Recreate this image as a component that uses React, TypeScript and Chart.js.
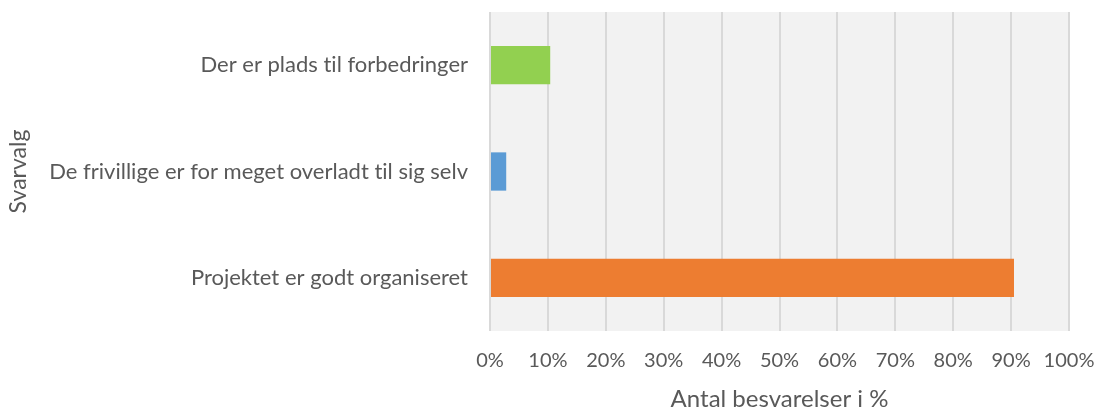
import React, { useEffect, useRef } from "react";
import { Chart, registerables } from "chart.js";

Chart.register(...registerables);

const categories = [
  "Der er plads til forbedringer",
  "De frivillige er for meget overladt til sig selv",
  "Projektet er godt organiseret",
];
const values = [10.4, 2.8, 90.5];
const barColors = ["#92d050", "#5b9bd5", "#ed7d31"];
const xTicks = [0, 10, 20, 30, 40, 50, 60, 70, 80, 90, 100];
const xTitle = "Antal besvarelser i %";
const yTitle = "Svarvalg";

const FONT = "Lato, 'Open Sans', sans-serif";

const plotBg = {
  id: "plotBg",
  beforeDraw(chart: any) {
    const { ctx, chartArea } = chart;
    try {
      (ctx as any).textRendering = "optimizeSpeed";
    } catch (e) {}
    ctx.save();
    ctx.fillStyle = "#f2f2f2";
    ctx.fillRect(chartArea.left, chartArea.top, chartArea.right - chartArea.left, chartArea.bottom - chartArea.top);
    ctx.restore();
  },
};

export default function App() {
  const ref = useRef<HTMLCanvasElement>(null);
  useEffect(() => {
    document.body.style.margin = "0";
    const chart = new Chart(ref.current!, {
      type: "bar",
      data: {
        labels: categories,
        datasets: [
          {
            data: values,
            backgroundColor: barColors,
            barPercentage: 0.36,
            categoryPercentage: 1,
          },
        ],
      },
      plugins: [plotBg],
      options: {
        indexAxis: "y",
        animation: false,
        responsive: false,
        maintainAspectRatio: false,
        layout: { padding: { top: 12, right: 29, left: 0, bottom: 0 } },
        plugins: { legend: { display: false }, tooltip: { enabled: false } },
        scales: {
          x: {
            min: 0,
            max: 100,
            afterBuildTicks: (scale: any) => {
              scale.ticks = xTicks.map((v) => ({ value: v }));
            },
            afterFit: (scale: any) => {
              scale.height = 79;
              scale.paddingLeft = 0;
              scale.paddingRight = 0;
            },
            ticks: {
              callback: (v: any) => v + "%",
              color: "#595959",
              font: { family: FONT, size: 20 },
              padding: 18,
              maxRotation: 0,
            },
            grid: { color: "#d9d9d9", lineWidth: 2, drawTicks: false },
            border: { display: false },
            title: {
              display: true,
              text: xTitle,
              color: "#595959",
              font: { family: FONT, size: 24 },
              padding: { top: 4, bottom: -4 },
            },
          },
          y: {
            afterFit: (scale: any) => {
              scale.width = 490;
              scale.paddingTop = 0;
              scale.paddingBottom = 0;
            },
            ticks: {
              color: "#595959",
              font: { family: FONT, size: 22 },
              padding: 22,
            },
            grid: { display: false, drawTicks: false },
            border: { display: false },
            title: {
              display: true,
              text: yTitle,
              color: "#595959",
              font: { family: FONT, size: 23 },
              padding: { top: 5, bottom: 0 },
            },
          },
        },
      },
    });
    return () => chart.destroy();
  }, []);
  return (
    <div style={{ width: 1098, height: 410 }}>
      <canvas ref={ref} width={1098} height={410} style={{ width: 1098, height: 410 }} />
    </div>
  );
}
